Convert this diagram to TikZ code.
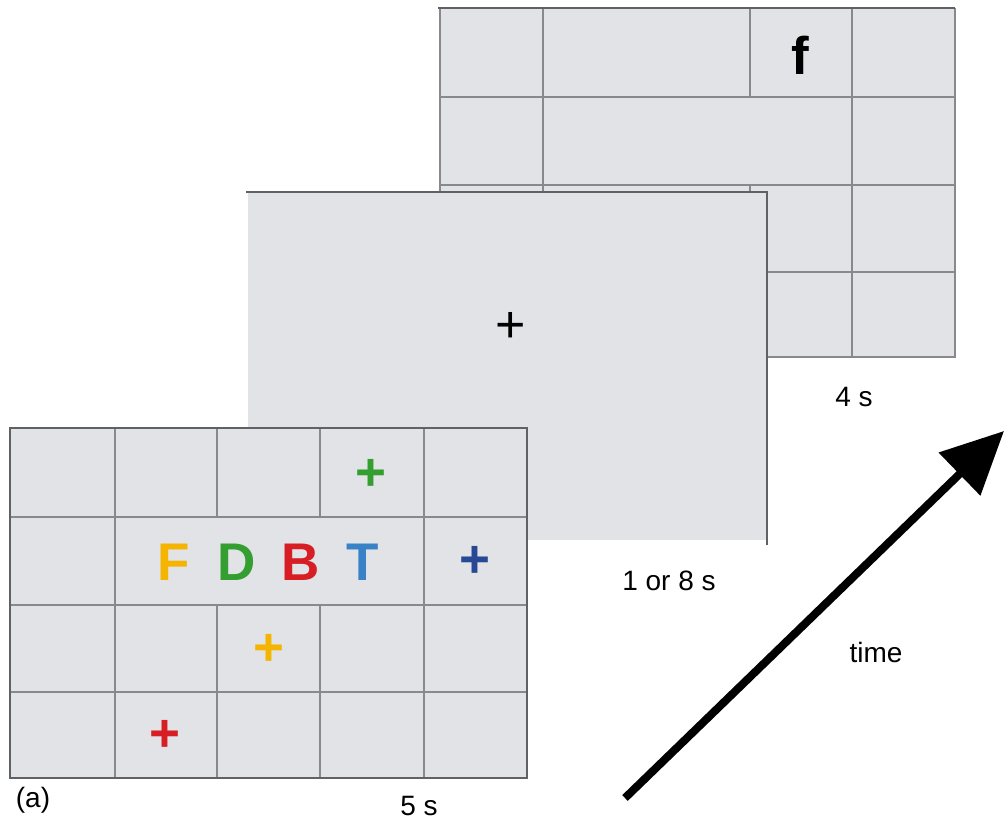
\documentclass[tikz,border=0pt]{standalone}
\usepackage{fontspec}
\setmainfont{Liberation Sans}
\usetikzlibrary{arrows.meta}

\definecolor{screenfill}{RGB}{225,227,230}
\definecolor{gridgray}{RGB}{135,137,140}
\definecolor{rimgray}{RGB}{95,97,100}
\definecolor{stimyellow}{RGB}{245,180,0}
\definecolor{stimgreen}{RGB}{52,158,48}
\definecolor{stimred}{RGB}{214,30,36}
\definecolor{stimblue}{RGB}{58,130,200}
\definecolor{stimnavy}{RGB}{40,72,150}

\begin{document}
\begin{tikzpicture}[x=1pt,y=-1pt,
	every node/.style={font=\fontsize{28}{32}\selectfont, inner sep=0pt},
	stim/.style={font=\fontsize{53}{60}\selectfont\bfseries},
	gridln/.style={draw=gridgray, line width=1.2pt},
	rim/.style={draw=rimgray, line width=1.4pt}]
	\useasboundingbox (0,0) rectangle (1005,832);

	% last screen (4 s)
	\fill[screenfill] (440,8) rectangle (955,357);
	\draw[gridln] (440,97) -- (955,97) (440,185) -- (955,185) (440,272) -- (955,272);
	\draw[gridln] (543,8) -- (543,357) (852,8) -- (852,357) (750,8) -- (750,97) (750,185) -- (750,272);
	\draw[gridln] (440,8) -- (440,357) -- (955,357) -- (955,8);
	\draw[rim] (438,8) -- (955,8);
	\node[stim] (letf) at (800,55) {f};

	% blank screen (1 or 8 s)
	\fill[screenfill] (248,192) rectangle (767,540);
	\draw[rim] (246,192) -- (767,192) -- (767,545);
	\node[font=\fontsize{52}{60}\selectfont] (fix) at (511,327) {+};

	% study screen (5 s)
	\fill[screenfill] (10,428) rectangle (527,778);
	\draw[gridln] (10,517) -- (527,517) (10,605) -- (527,605) (10,692) -- (527,692);
	\draw[gridln] (115,428) -- (115,778) (424,428) -- (424,778);
	\foreach \x in {217,320}
		\draw[gridln] (\x,428) -- (\x,517) (\x,605) -- (\x,778);
	\draw[rim] (10,428) rectangle (527,778);

	\node[stim, text=stimyellow] (letF) at (174,562) {F};
	\node[stim, text=stimgreen] (letD) at (237,562) {D};
	\node[stim, text=stimred] (letB) at (301,562) {B};
	\node[stim, text=stimblue] (letT) at (363,562) {T};
	\node[stim, text=stimgreen] (plusG) at (371,475) {+};
	\node[stim, text=stimnavy] (plusB) at (475,562) {+};
	\node[stim, text=stimyellow] (plusY) at (269,650) {+};
	\node[stim, text=stimred] (plusR) at (165,736) {+};

	% labels
	\node (lblA) at (33,800) {(a)};
	\node (lblFive) at (419,806) {5 s};
	\node (lblOneEight) at (669,581) {1 or 8 s};
	\node (lblFour) at (854,397) {4 s};
	\node (lblTime) at (876,652) {time};

	% time arrow
	\coordinate (t0) at (625,798);
	\coordinate (t1) at (1004,431);
	\draw[line width=8pt, -{Triangle[length=62pt,width=58pt]}] (t0) -- (t1);
\end{tikzpicture}
\end{document}
